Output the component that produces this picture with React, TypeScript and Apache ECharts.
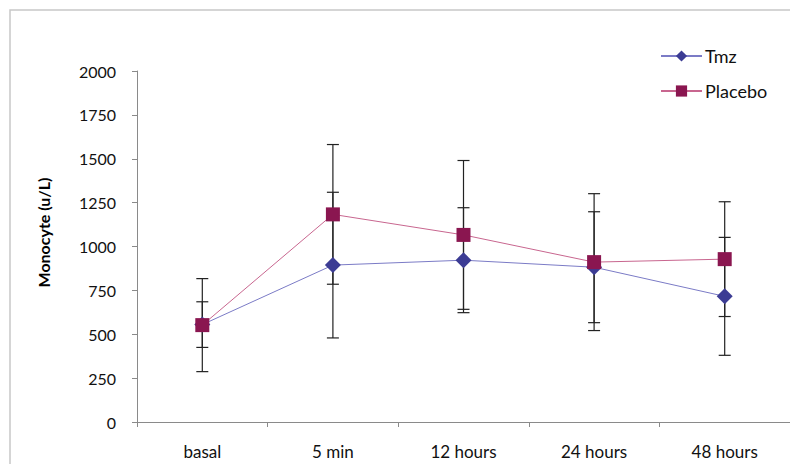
import React, { useEffect, useRef } from "react";
import * as echarts from "echarts";

const categories = ["basal", "5 min", "12 hours", "24 hours", "48 hours"];
const tmzValues = [555, 894, 922, 882, 716];
const tmzErrors = [130, 415, 299, 316, 336];
const placeboValues = [552, 1183, 1066, 911, 928];
const placeboErrors = [265, 398, 424, 390, 327];

const FONT = "Lato";

function errorData(values: number[], errs: number[]) {
  return values.map((v, i) => [i, v - errs[i], v + errs[i]]);
}

function renderError(params: any, api: any) {
  const x = api.value(0);
  const lo = api.coord([x, api.value(1)]);
  const hi = api.coord([x, api.value(2)]);
  const half = 6;
  const style = { stroke: "#222", lineWidth: 1.2 };
  return {
    type: "group",
    children: [
      { type: "line", shape: { x1: hi[0], y1: hi[1], x2: lo[0], y2: lo[1] }, style },
      { type: "line", shape: { x1: hi[0] - half, y1: hi[1], x2: hi[0] + half, y2: hi[1] }, style },
      { type: "line", shape: { x1: lo[0] - half, y1: lo[1], x2: lo[0] + half, y2: lo[1] }, style },
    ],
  };
}

export default function App() {
  const ref = useRef<HTMLDivElement>(null);
  useEffect(() => {
    document.body.style.margin = "0";
    const chart = echarts.init(ref.current!, null, { renderer: "svg" });
    chart.setOption({
      animation: false,
      backgroundColor: "#ffffff",
      textStyle: { fontFamily: FONT },
      graphic: [
        {
          type: "rect",
          shape: { x: 10, y: 10, width: 820, height: 500 },
          style: { fill: "none", stroke: "#c8c8c8", lineWidth: 1.5 },
          silent: true,
          z: -1,
        },
      ],
      legend: {
        orient: "vertical",
        left: 655,
        top: 42,
        itemWidth: 41,
        itemHeight: 14,
        itemGap: 17,
        data: ["Tmz", "Placebo"],
        textStyle: { fontFamily: FONT, fontSize: 18, color: "#111", padding: [0, 0, 0, -2] },
      },
      grid: { left: 137, top: 71, width: 665, height: 351 },
      xAxis: {
        type: "category",
        data: categories,
        boundaryGap: true,
        axisLine: { lineStyle: { color: "#8a8a8a", width: 1 } },
        axisTick: { show: true, length: 5, lineStyle: { color: "#8a8a8a" } },
        axisLabel: { margin: 21, fontFamily: FONT, fontSize: 17, color: "#111" },
      },
      yAxis: {
        type: "value",
        min: 0,
        max: 2000,
        interval: 250,
        name: "Monocyte (u/L)",
        nameLocation: "middle",
        nameGap: 86,
        nameTextStyle: {
          fontFamily: FONT,
          fontSize: 16,
          fontWeight: "bold",
          color: "#000",
          padding: [0, 0, 0, 28],
        },
        axisLine: { show: true, lineStyle: { color: "#8a8a8a", width: 1 } },
        axisTick: { show: true, length: 5, lineStyle: { color: "#8a8a8a" } },
        splitLine: { show: false },
        axisLabel: {
          margin: 21,
          fontFamily: FONT,
          fontSize: 16,
          color: "#111",
          formatter: (v: number) => String(v),
        },
      },
      series: [
        {
          name: "TmzErr",
          type: "custom",
          renderItem: renderError,
          data: errorData(tmzValues, tmzErrors),
          z: 1,
          silent: true,
        },
        {
          name: "PlaceboErr",
          type: "custom",
          renderItem: renderError,
          data: errorData(placeboValues, placeboErrors),
          z: 1,
          silent: true,
        },
        {
          name: "Tmz",
          type: "line",
          data: tmzValues,
          symbol: "diamond",
          symbolSize: 16,
          itemStyle: { color: "#3c3c94" },
          lineStyle: { color: "#7b7bc6", width: 1 },
          z: 3,
        },
        {
          name: "Placebo",
          type: "line",
          data: placeboValues,
          symbol: "rect",
          symbolSize: 14,
          itemStyle: { color: "#8a1650" },
          lineStyle: { color: "#c8668f", width: 1 },
          z: 4,
        },
      ],
    });
    return () => chart.dispose();
  }, []);
  return <div ref={ref} style={{ width: 790, height: 464 }} />;
}
